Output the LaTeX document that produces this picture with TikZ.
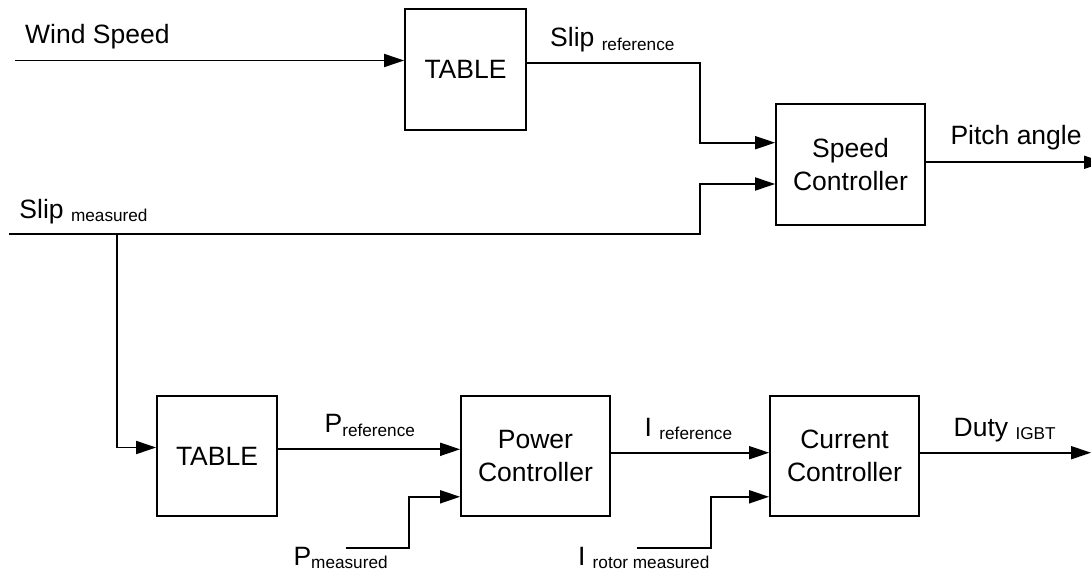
\documentclass[tikz,border=0pt]{standalone}
\usepackage{fontspec}
\setmainfont{Liberation Sans}
\usetikzlibrary{arrows.meta}
\newcommand{\mysub}[1]{\raisebox{-3.5pt}{\fontsize{17.2}{20}\selectfont #1}}
\begin{document}
\begin{tikzpicture}[x=1pt,y=-1pt,
  blk/.style={draw,line width=1.8pt,minimum width=#1,inner sep=0pt,align=center,font=\fontsize{26.5}{32.3}\selectfont},
  lbl/.style={anchor=base west,inner sep=0pt,font=\fontsize{26.5}{32.3}\selectfont},
  wire/.style={line width=1.8pt},
  arr/.style={wire,-{Triangle[length=20pt,width=13pt]}}]
\useasboundingbox (0,0) rectangle (1091,572);

% blocks
\node[blk=121pt,minimum height=121pt] (t1) at (465.5,69.5) {TABLE};
\node[blk=149pt,minimum height=121pt] (sc) at (850.5,164.5) {Speed\\Controller};
\node[blk=120pt,minimum height=120pt] (t2) at (217,456) {TABLE};
\node[blk=149pt,minimum height=120pt] (pc) at (535.5,456) {Power\\Controller};
\node[blk=149pt,minimum height=120pt] (cc) at (844.5,456) {Current\\Controller};

% labels
\node[lbl] (lws) at (25,43.3) {Wind Speed};
\node[lbl] (lsr) at (550,46.7) {Slip \mysub{reference}};
\node[lbl] (lsm) at (19.3,218.3) {Slip \mysub{measured}};
\node[lbl] (lpa) at (950.3,145) {Pitch angle};
\node[lbl] (lpr) at (324.4,432.7) {P\mysub{reference}};
\node[lbl] (lpm) at (293.3,565) {P\mysub{measured}};
\node[lbl] (lir) at (644.5,436) {I \mysub{reference}};
\node[lbl] (lim) at (577.8,565.3) {I \mysub{rotor measured}};
\node[lbl] (ldu) at (953.5,436) {Duty \mysub{IGBT}};

% coordinates
\coordinate (ws) at (15,60.5);
\coordinate (b1) at (700,63.3);
\coordinate (b2) at (700,142.7);
\coordinate (sm) at (9,234.3);
\coordinate (b3) at (700,234.3);
\coordinate (b4) at (700,184);
\coordinate (pa) at (1104,162.3);
\coordinate (j) at (116.7,234.3);
\coordinate (r0) at (116.7,447.5);
\coordinate (r1) at (0,449.3);
\coordinate (pm) at (345.5,547.7);
\coordinate (b5) at (408.7,547.7);
\coordinate (b6) at (408.7,496.8);
\coordinate (r2) at (0,452.7);
\coordinate (im) at (636.7,547.7);
\coordinate (b7) at (710.7,547.7);
\coordinate (b8) at (710.7,496.8);
\coordinate (du) at (1091,452.7);

% connectors
\draw[arr] (ws) -- (ws -| t1.west);
\draw[arr] (b1 -| t1.east) -- (b1) -- (b2) -- (b2 -| sc.west);
\draw[arr] (sm) -- (b3) -- (b4) -- (b4 -| sc.west);
\draw[arr] (pa -| sc.east) -- (pa);
\draw[arr] (j) -- (r0) -- (r0 -| t2.west);
\draw[arr] (r1 -| t2.east) -- (r1 -| pc.west);
\draw[arr] (pm) -- (b5) -- (b6) -- (b6 -| pc.west);
\draw[arr] (r2 -| pc.east) -- (r2 -| cc.west);
\draw[arr] (im) -- (b7) -- (b8) -- (b8 -| cc.west);
\draw[arr] (du -| cc.east) -- (du);
\end{tikzpicture}
\end{document}
